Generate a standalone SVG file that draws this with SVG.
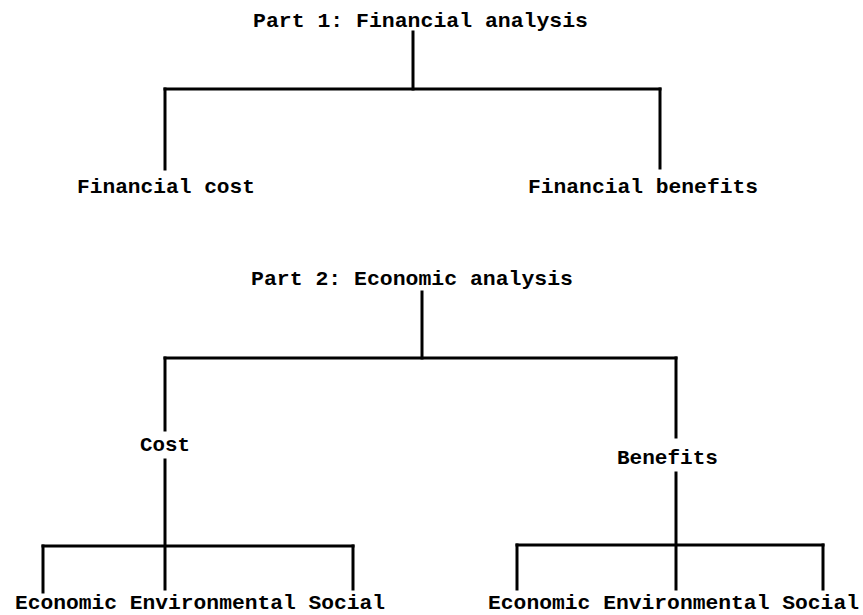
<svg xmlns="http://www.w3.org/2000/svg" width="863" height="615" viewBox="0 0 863 615">
<style>
text{font-family:"Liberation Mono","DejaVu Sans Mono",monospace;font-weight:bold;font-size:21px;fill:#000}
.c line{stroke:#000;stroke-width:3;stroke-linecap:square}
</style>
<rect width="863" height="615" fill="#fff"/>
<g class="c" id="connectors">
<line x1="413" y1="32" x2="413" y2="89"/>
<line x1="165" y1="89" x2="660" y2="89"/>
<line x1="165" y1="89" x2="165" y2="169"/>
<line x1="660" y1="89" x2="660" y2="168"/>
<line x1="422" y1="292" x2="422" y2="358"/>
<line x1="165" y1="358" x2="676" y2="358"/>
<line x1="165" y1="358" x2="165" y2="430"/>
<line x1="676" y1="358" x2="676" y2="437"/>
<line x1="165" y1="460" x2="165" y2="589"/>
<line x1="43" y1="546" x2="353" y2="546"/>
<line x1="43" y1="546" x2="43" y2="592"/>
<line x1="353" y1="546" x2="353" y2="589"/>
<line x1="676" y1="473" x2="676" y2="589"/>
<line x1="517" y1="545" x2="823" y2="545"/>
<line x1="517" y1="545" x2="517" y2="589"/>
<line x1="823" y1="545" x2="823" y2="589"/>
</g>
<g id="part1"><text x="253" y="27" textLength="335" lengthAdjust="spacingAndGlyphs">Part 1: Financial analysis</text></g>
<g id="fincost"><text x="77" y="193" textLength="178" lengthAdjust="spacingAndGlyphs">Financial cost</text></g>
<g id="finben"><text x="528" y="193" textLength="230" lengthAdjust="spacingAndGlyphs">Financial benefits</text></g>
<g id="part2"><text x="251" y="285" textLength="322" lengthAdjust="spacingAndGlyphs">Part 2: Economic analysis</text></g>
<g id="cost"><text x="140" y="451" textLength="50" lengthAdjust="spacingAndGlyphs">Cost</text></g>
<g id="benefits"><text x="617" y="464" textLength="101" lengthAdjust="spacingAndGlyphs">Benefits</text></g>
<g id="cost-children"><text x="15" y="609" textLength="370" lengthAdjust="spacingAndGlyphs">Economic Environmental Social</text></g>
<g id="benefit-children"><text x="488" y="609" textLength="371" lengthAdjust="spacingAndGlyphs">Economic Environmental Social</text></g>
</svg>
